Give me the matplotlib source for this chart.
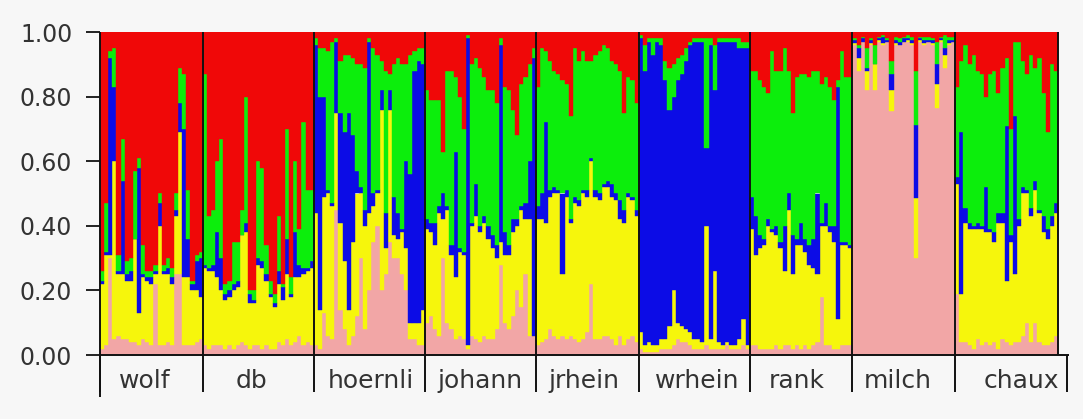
import matplotlib
matplotlib.use("Agg")
import matplotlib.pyplot as plt
import numpy as np

# Cluster membership (STRUCTURE-style). Each row = one individual,
# giving the cumulative upper edge of pink, yellow, blue, green; red fills up to 1.
groups = ["wolf", "db", "hoernli", "johann", "jrhein", "wrhein", "rank", "milch", "chaux"]
cluster_colors = ["#f2a6a6", "#f6f60c", "#0c0ce6", "#0cee0c", "#f00808"]
ytick_values = [0.0, 0.2, 0.4, 0.6, 0.8, 1.0]
ytick_labels = ["0.00", "0.20", "0.40", "0.60", "0.80", "1.00"]

wolf = [
    (.02, .22, .23, .26), (.03, .31, .32, .47), (.30, .31, .92, .94), (.05, .60, .83, .95),
    (.06, .25, .26, .31), (.05, .25, .54, .67), (.05, .23, .25, .29), (.04, .23, .26, .30),
    (.04, .36, .36, .57), (.03, .13, .58, .61), (.05, .24, .25, .34), (.04, .23, .24, .26),
    (.03, .22, .24, .26), (.22, .25, .26, .28), (.03, .40, .47, .50), (.03, .25, .26, .28),
    (.04, .25, .27, .30), (.03, .22, .24, .27), (.25, .43, .45, .50), (.25, .69, .78, .89),
    (.03, .24, .70, .87), (.03, .24, .36, .51), (.03, .20, .22, .23), (.04, .20, .29, .31),
    (.05, .18, .30, .32),
]
db = [
    (.03, .27, .28, .87), (.02, .26, .27, .43), (.03, .26, .28, .45), (.03, .24, .38, .60),
    (.03, .20, .30, .67), (.02, .17, .19, .22), (.03, .18, .20, .23), (.02, .20, .22, .35),
    (.03, .21, .23, .35), (.04, .37, .37, .45), (.03, .38, .41, .80), (.02, .16, .19, .20),
    (.03, .16, .17, .20), (.03, .28, .30, .60), (.02, .27, .29, .58), (.03, .23, .25, .34),
    (.02, .18, .19, .23), (.02, .15, .16, .19), (.04, .22, .26, .43), (.03, .17, .21, .22),
    (.05, .25, .36, .70), (.03, .18, .19, .24), (.04, .24, .38, .60), (.06, .24, .28, .39),
    (.03, .25, .27, .72), (.04, .26, .27, .51), (.03, .27, .29, .51),
]
hoernli = [
    (.03, .44, .96, .98), (.02, .14, .80, .95), (.13, .49, .80, .95), (.06, .50, .51, .94),
    (.05, .46, .47, .97), (.45, .75, .97, .98), (.14, .41, .75, .91), (.08, .29, .69, .93),
    (.03, .14, .75, .93), (.06, .35, .68, .92), (.12, .50, .57, .90), (.30, .50, .52, .90),
    (.08, .40, .45, .89), (.20, .44, .97, .98), (.35, .46, .50, .95), (.40, .50, .51, .93),
    (.20, .76, .82, .91), (.25, .33, .44, .88), (.35, .76, .82, .87), (.30, .37, .49, .90),
    (.30, .36, .44, .92), (.25, .38, .39, .90), (.20, .33, .60, .90), (.05, .10, .56, .93),
    (.05, .10, .88, .94), (.03, .10, .91, .95), (.03, .14, .90, .95),
]
johann = [
    (.10, .39, .42, .82), (.12, .38, .41, .79), (.08, .34, .41, .79), (.06, .44, .46, .79),
    (.30, .42, .50, .63), (.10, .45, .46, .88), (.08, .31, .34, .88), (.05, .24, .63, .86),
    (.06, .32, .33, .80), (.05, .31, .32, .70), (.02, .03, .98, .99), (.06, .40, .41, .90),
    (.05, .43, .53, .92), (.04, .38, .40, .89), (.06, .41, .43, .86), (.05, .36, .40, .82),
    (.05, .33, .37, .82), (.08, .30, .34, .78), (.28, .35, .96, .98), (.10, .31, .38, .83),
    (.08, .31, .34, .82), (.12, .38, .42, .76), (.20, .40, .42, .68), (.15, .45, .46, .84),
    (.25, .42, .47, .86), (.06, .42, .60, .90), (.06, .06, .92, .95),
]
jrhein = [
    (.03, .42, .46, .83), (.04, .42, .50, .95), (.05, .41, .72, .94), (.08, .49, .51, .91),
    (.06, .50, .52, .88), (.05, .50, .51, .87), (.06, .25, .50, .85), (.05, .49, .51, .84),
    (.06, .41, .42, .74), (.05, .47, .49, .95), (.04, .46, .48, .91), (.05, .50, .51, .94),
    (.07, .49, .51, .91), (.22, .60, .61, .91), (.05, .49, .51, .93), (.05, .48, .50, .94),
    (.06, .52, .53, .96), (.06, .52, .54, .95), (.05, .49, .53, .91), (.03, .48, .50, .90),
    (.06, .42, .48, .88), (.03, .41, .45, .75), (.05, .49, .50, .86), (.06, .48, .49, .85),
    (.04, .43, .45, .78),
]
wrhein = [
    (.02, .07, .98, .99), (.01, .03, .88, .96), (.01, .04, .97, .98), (.01, .03, .93, .98),
    (.01, .03, .97, .98), (.02, .05, .96, .98), (.02, .05, .85, .91), (.02, .09, .76, .89),
    (.03, .20, .80, .90), (.05, .10, .85, .92), (.04, .09, .87, .93), (.04, .08, .91, .95),
    (.03, .07, .96, .97), (.02, .05, .97, .98), (.02, .05, .97, .98), (.02, .04, .97, .98),
    (.03, .40, .64, .98), (.02, .05, .96, .98), (.02, .26, .82, .96), (.02, .04, .97, .98),
    (.02, .03, .97, .98), (.03, .04, .97, .98), (.02, .03, .97, .98), (.02, .03, .97, .98),
    (.02, .05, .95, .98), (.03, .11, .95, .97), (.02, .03, .95, .97),
]
rank = [
    (.03, .39, .49, .88), (.03, .31, .43, .88), (.02, .33, .37, .85), (.02, .34, .36, .83),
    (.02, .40, .42, .81), (.02, .38, .39, .94), (.03, .37, .40, .88), (.02, .33, .35, .88),
    (.03, .26, .40, .95), (.03, .45, .50, .88), (.02, .25, .37, .75), (.03, .34, .36, .86),
    (.02, .34, .41, .87), (.03, .32, .36, .87), (.02, .28, .34, .86), (.03, .27, .36, .88),
    (.04, .25, .50, .88), (.18, .40, .41, .84), (.03, .40, .47, .86), (.03, .38, .40, .83),
    (.02, .35, .40, .79), (.02, .11, .83, .85), (.03, .34, .35, .94), (.03, .34, .35, .86),
    (.03, .33, .34, .86),
]
milch = [
    (.96, .965, .975, .98), (.88, .92, .95, .96), (.97, .97, .98, .985), (.82, .88, .89, .95),
    (.96, .965, .975, .98), (.82, .90, .90, .96), (.97, .975, .98, .985), (.96, .965, .985, .99),
    (.97, .97, .975, .98), (.755, .82, .87, .91), (.96, .965, .975, .985), (.96, .96, .97, .98),
    (.97, .97, .98, .985), (.97, .975, .98, .99), (.96, .965, .975, .985), (.30, .486, .713, .878),
    (.97, .975, .98, .985), (.96, .965, .975, .985), (.97, .97, .975, .985), (.96, .965, .975, .98),
    (.765, .84, .90, .97), (.97, .975, .98, .985), (.89, .93, .95, .99), (.96, .965, .975, .985),
    (.97, .97, .975, .985),
]
chaux = [
    (.19, .53, .55, .83), (.04, .19, .69, .91), (.04, .41, .455, .96), (.03, .39, .41, .90),
    (.02, .39, .40, .93), (.05, .39, .41, .88), (.03, .39, .40, .87), (.04, .38, .52, .80),
    (.03, .38, .39, .87), (.04, .35, .38, .88), (.02, .41, .44, .81), (.05, .41, .44, .89),
    (.04, .23, .71, .92), (.03, .35, .37, .70), (.04, .25, .74, .97), (.04, .40, .42, .97),
    (.06, .50, .52, .91), (.10, .50, .51, .87), (.04, .43, .455, .93), (.10, .51, .54, .89),
    (.04, .44, .45, .92), (.03, .38, .43, .81), (.03, .36, .39, .69), (.04, .40, .43, .90),
    (.06, .44, .47, .88),
]
group_rows = [wolf, db, hoernli, johann, jrhein, wrhein, rank, milch, chaux]

W, H = 1083, 419
fig = plt.figure(figsize=(W / 100, H / 100), dpi=100, facecolor="#f7f7f7")
ax = fig.add_axes([100 / W, 64 / H, 958 / W, 323 / H])
ax.set_facecolor("white")

rows = np.array([r for g in group_rows for r in g], dtype=float)
n = len(rows)
xs = np.arange(n) + 0.5
tops = np.column_stack([rows, np.ones(n)])
bottoms = np.column_stack([np.zeros(n), rows])
for k, col in enumerate(cluster_colors):
    ax.bar(xs, tops[:, k] - bottoms[:, k], bottom=bottoms[:, k], width=1.0,
           color=col, edgecolor=col, linewidth=0.3)

ax.set_xlim(0, n)
ax.set_ylim(0, 1)

# group boundaries (inside the plot and as ticks below the axis)
sizes = [len(g) for g in group_rows]
edges = np.concatenate([[0], np.cumsum(sizes)]).astype(float)
tick_edges = edges.copy()
tick_edges[-1] = n + 2.2
line_kw = dict(color="#111111", lw=1.4, clip_on=False, solid_capstyle="butt", zorder=5)
for e in edges:
    ax.plot([e, e], [1.0, 0.0], **line_kw)
for e in tick_edges:
    ax.plot([e, e], [0.0, -0.115], **line_kw)
ax.plot([0, 0], [0.0, -0.13], **line_kw)
ax.plot([0, tick_edges[-1] + 0.5], [0, 0], **line_kw)

# group labels (slight offsets as in the original figure)
label_shift = [-1.5, -1.7, 0.5, 0.0, -0.7, 0.7, -1.0, -1.5, 3.5]
for name, a, b, d in zip(groups, edges[:-1], edges[1:], label_shift):
    ax.text((a + b) / 2 + d, -0.08, name, ha="center", va="center",
            fontsize=18, color="#333333")

for s in ["top", "right", "bottom", "left"]:
    ax.spines[s].set_visible(False)
ax.set_xticks([])
ax.set_yticks(ytick_values)
ax.set_yticklabels(ytick_labels, fontsize=17, color="#333333")
ax.tick_params(axis="y", direction="out", length=10, width=1.3, pad=10, color="#111111")

fig.savefig("out.png", dpi=100, facecolor=fig.get_facecolor())
